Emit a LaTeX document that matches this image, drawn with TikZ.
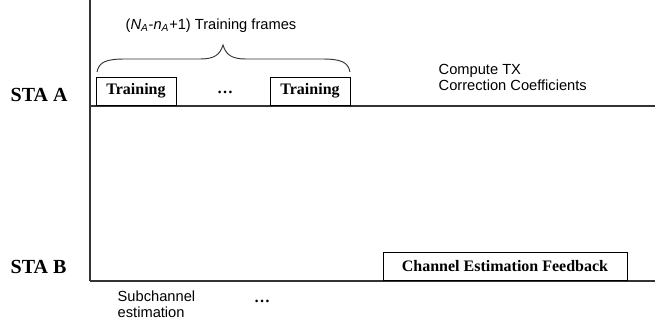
\documentclass[tikz,border=0pt]{standalone}
\usepackage{fontspec}
\setmainfont{Liberation Serif}
\setsansfont{Liberation Sans}
\usetikzlibrary{positioning}

\tikzset{
  frame/.style={draw,line width=0.75pt,font=\bfseries\fontsize{12}{14}\selectfont,inner sep=2pt},
  sta/.style={font=\bfseries\fontsize{15}{17}\selectfont,anchor=base west},
  note/.style={font=\sffamily\fontsize{11}{12}\selectfont,align=left,anchor=west},
  timeline/.style={line width=0.8pt,black!80}
}

\begin{document}
\begin{tikzpicture}[x=0.75pt,y=-0.75pt]
  \useasboundingbox (0,0) rectangle (655,333);
  % time axis and the two station lines
  \coordinate (top) at (90,0);
  \coordinate (origin) at (90,281);
  \coordinate (aStart) at (90,106);
  \coordinate (aEnd) at (655,106);
  \coordinate (bEnd) at (655,281);
  \draw[timeline] (top) -- (origin);
  \draw[timeline] (aStart) -- (aEnd);
  \draw[timeline] (origin) -- (bEnd);

  \node[sta] (staA) at (6,101) {STA A};
  \node[sta] (staB) at (6,273) {STA B};

  % training frames sent by STA A
  \node[frame,minimum width=60pt,minimum height=21pt] (trainFirst) at (136,91) {Training};
  \node[frame,minimum width=60pt,minimum height=21pt] (trainLast) at (310,91) {Training};
  \node[font=\bfseries\fontsize{12}{12}\selectfont] (dotsA) at (225,92) {\ldots};

  % brace over the frames
  \coordinate (braceL) at (97,72);
  \coordinate (braceR) at (350,72);
  \coordinate (braceTip) at (223,45);
  \draw[line width=0.7pt,black!80] (braceL) .. controls (99,62) and (106,59) .. (125,59)
    -- (200,59) .. controls (214,59) and (220,55) .. (braceTip)
    .. controls (226,55) and (232,59) .. (246,59)
    -- (322,59) .. controls (341,59) and (348,62) .. (braceR);
  \node[font=\sffamily\fontsize{11}{12}\selectfont,anchor=base west] (frameCount) at (121,29)
    {(\textit{N\textsubscript{A}}-\textit{n\textsubscript{A}}+1) Training frames};

  \node[note] (computeTX) at (434,77) {Compute TX\\Correction Coefficients};

  % STA B side
  \node[frame,minimum width=183pt,minimum height=21pt] (feedback) at (505,266) {Channel Estimation Feedback};
  \node[note] (subEst) at (113,304) {Subchannel\\estimation};
  \node[font=\bfseries\fontsize{12}{12}\selectfont] (dotsB) at (262,301) {\ldots};
\end{tikzpicture}
\end{document}
